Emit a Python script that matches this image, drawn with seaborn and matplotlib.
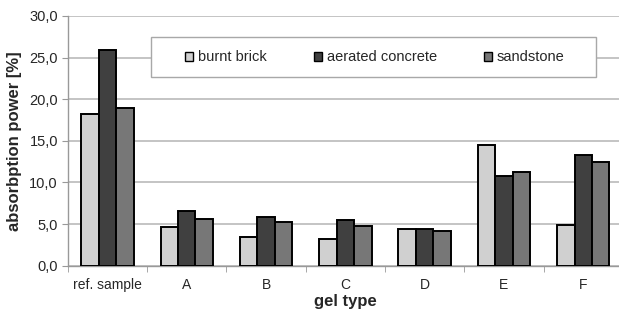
import pandas as pd
import matplotlib
matplotlib.use('Agg')
import matplotlib.pyplot as plt
import seaborn as sns
from matplotlib.patches import Rectangle
from matplotlib.ticker import FixedLocator

# values
gel_types = ['ref. sample', 'A', 'B', 'C', 'D', 'E', 'F']
burnt_brick = [18.2, 4.65, 3.5, 3.2, 4.45, 14.55, 4.85]
aerated_concrete = [25.9, 6.55, 5.9, 5.5, 4.45, 10.75, 13.35]
sandstone = [18.9, 5.55, 5.3, 4.75, 4.2, 11.25, 12.4]
materials = ['burnt brick', 'aerated concrete', 'sandstone']
colors = ['#d0d0d0', '#404040', '#777777']

df = pd.DataFrame({'gel type': gel_types * 3,
                   'material': sum([[m] * len(gel_types) for m in materials], []),
                   'value': burnt_brick + aerated_concrete + sandstone})

sns.set_style('white')
plt.rcParams['font.family'] = ['Liberation Sans', 'DejaVu Sans']

fig = plt.figure(figsize=(6.19, 3.11), dpi=100)
ax = fig.add_axes([0.1094, 0.1457, 0.897, 0.8029])

sns.barplot(data=df, x='gel type', y='value', hue='material', palette=colors,
            width=0.66, gap=0, edgecolor='black', linewidth=1.4, ax=ax, zorder=3)

ax.set_ylim(0, 30)
ax.set_xlim(-0.5, len(gel_types) - 0.5)
ax.set_yticks([0, 5, 10, 15, 20, 25, 30])
ax.set_yticklabels([f'{v:.1f}'.replace('.', ',') for v in [0, 5, 10, 15, 20, 25, 30]])
ax.yaxis.grid(True, color='#b4b4b4', linewidth=1.1, zorder=0)
ax.set_axisbelow(True)

for s in ['top', 'right']:
    ax.spines[s].set_visible(False)
for s in ['left', 'bottom']:
    ax.spines[s].set_color('#999999')
    ax.spines[s].set_linewidth(1.0)

ax.tick_params(axis='y', left=True, length=4, color='#999999', labelsize=10.5, pad=3)
ax.tick_params(axis='x', which='major', length=0, labelsize=10, pad=9)
ax.xaxis.set_minor_locator(FixedLocator([i - 0.5 for i in range(len(gel_types) + 1)]))
ax.tick_params(axis='x', which='minor', bottom=True, length=4, color='#999999')

ax.set_xlabel('gel type', fontsize=12, fontweight='bold', labelpad=1)
ax.set_ylabel('absorbption power [%]', fontsize=12, fontweight='bold', labelpad=5)

# legend box
ax.add_patch(Rectangle((0.1495, 0.7545), 0.8015, 0.16, transform=ax.transAxes,
                       facecolor='white', edgecolor='#a8a8a8', linewidth=1.0, zorder=4))
handles, labels = ax.get_legend_handles_labels()
for h in handles:
    h.set_linewidth(1.0)
ax.legend(handles, labels, loc='center', bbox_to_anchor=(0.5534, 0.8346), ncol=3,
          frameon=False, fontsize=10.5, handlelength=0.55, handleheight=0.55,
          handletextpad=0.35, columnspacing=3.2).set_zorder(5)

fig.savefig('out.png', dpi=100)
